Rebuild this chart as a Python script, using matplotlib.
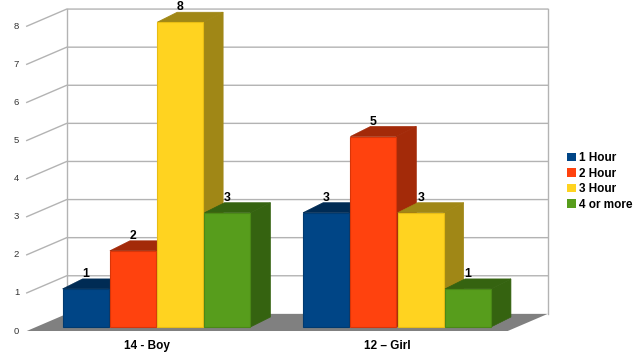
import matplotlib.pyplot as plt
from matplotlib.patches import Polygon, Patch

plt.rcParams['font.family'] = ['Liberation Sans', 'DejaVu Sans']

# data
categories = ['14 - Boy', '12 – Girl']
series = ['1 Hour', '2 Hour', '3 Hour', '4 or more']
hour_1 = [1, 3]
hour_2 = [2, 5]
hour_3 = [8, 3]
more_4 = [3, 1]
y_ticks = list(range(0, 9))

front_colors = ['#004586', '#ff420e', '#ffd320', '#579d1c']
side_colors = ['#002b54', '#a32a09', '#a08716', '#356310']
edge_colors = ['#003a70', '#d83509', '#e8bd14', '#4a8817']

# pseudo-3d geometry (data units: category / value)
slot = 0.1967          # spacing of bars in a group
bar_w = 0.191          # width of the front face
group_shift = 0.0395   # bars sit a bit right of the floor-front center
bdx, bdy = 0.0832, 0.262   # bar depth
base = 0.105               # bar bottom above floor front edge
wdx, wdy = 0.1663, 0.45    # wall depth
fl_left, fl_right = -0.5, 1.5

fig = plt.figure(figsize=(6.4, 3.6), dpi=100)
ax = fig.add_axes([0, 0, 1, 1])
ax.set_xlim(-0.6112, 2.0499)
ax.set_ylim(-0.761, 8.688)
ax.axis('off')

grid_c = '#b3b3b3'
top = y_ticks[-1]

# floor
ax.add_patch(Polygon([(fl_left, 0), (fl_right, 0), (fl_right + wdx, wdy),
                      (fl_left + wdx, wdy)], closed=True,
                     facecolor='#808080', edgecolor='none', zorder=1))

# walls + grid
for k in y_ticks[1:]:
    ax.plot([fl_left, fl_left + wdx, fl_right + wdx], [k, k + wdy, k + wdy],
            color=grid_c, lw=1.0, zorder=0.5)
for xx in (fl_left + wdx, fl_right + wdx):
    ax.plot([xx, xx], [wdy, top + wdy], color=grid_c, lw=1.0, zorder=0.5)

# y tick labels
for k in y_ticks:
    ax.text(-0.5426, k, str(k), ha='center', va='center', fontsize=6.8,
            color='#333333')

# bars
all_vals = [hour_1, hour_2, hour_3, more_4]
for j, vals in enumerate(all_vals):
    centers = [i + group_shift + (j - 1.5) * slot for i in range(len(categories))]
    ax.bar(centers, vals, width=bar_w, bottom=base, color=front_colors[j],
           edgecolor=edge_colors[j], linewidth=0.8, zorder=4 + 2 * j)
    for c, v in zip(centers, vals):
        x0, x1 = c - bar_w / 2, c + bar_w / 2
        t = base + v
        ax.add_patch(Polygon([(x1, base), (x1 + bdx, base + bdy),
                              (x1 + bdx, t + bdy), (x1, t)], closed=True,
                             facecolor=side_colors[j], edgecolor=side_colors[j],
                             lw=0.5, zorder=3 + 2 * j))
        ax.add_patch(Polygon([(x0, t), (x0 + bdx, t + bdy), (x1 + bdx, t + bdy),
                              (x1, t)], closed=True,
                             facecolor=side_colors[j], edgecolor=side_colors[j],
                             lw=0.5, zorder=3 + 2 * j))
        ax.text(c, t + bdy + 0.05, str(v), ha='center', va='baseline',
                fontsize=8.8, fontweight='bold', color='black', zorder=20)

# category labels
for i, cat in enumerate(categories):
    ax.text(i, -0.394, cat, ha='center', va='center', fontsize=8.5,
            fontweight='bold', color='black')

handles = [Patch(facecolor=c, edgecolor='none') for c in front_colors]
fig.legend(handles, series, loc='upper left', bbox_to_anchor=(567 / 640, 1 - 152 / 360),
           frameon=False, prop=dict(weight='bold', size=8.5),
           handlelength=0.75, handleheight=0.75, handletextpad=0.25,
           labelspacing=0.3, borderaxespad=0, borderpad=0)

plt.savefig('out.png', dpi=100, facecolor='white')
